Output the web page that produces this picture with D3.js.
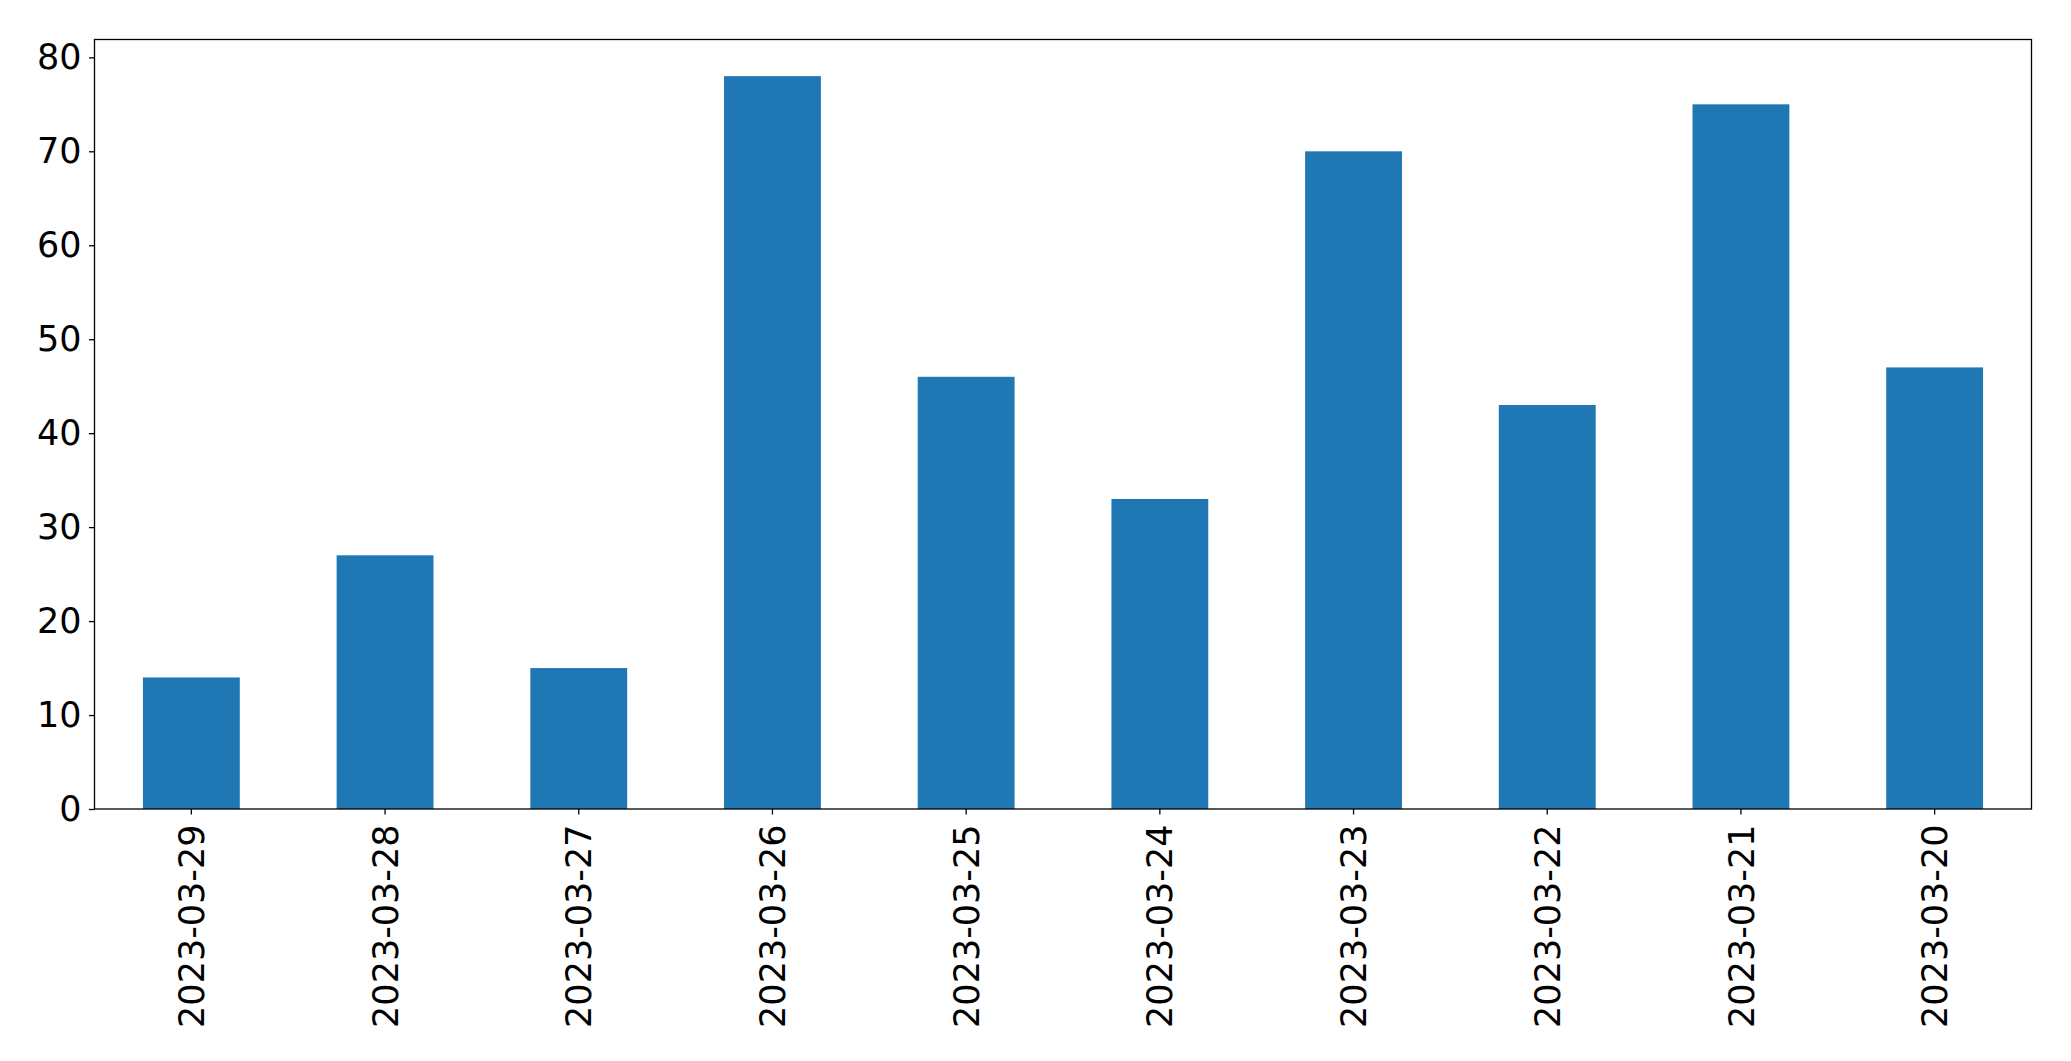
<!DOCTYPE html>
<html>
<head>
<meta charset="utf-8">
<script src="https://cdn.jsdelivr.net/npm/d3@7"></script>
<style>
  html, body { margin: 0; padding: 0; background: #fff; }
  svg { display: block; }
  text { font-family: "DejaVu Sans", sans-serif; }
</style>
</head>
<body>
<svg id="chart" width="2071" height="1061"></svg>
<script>
const categories = ["2023-03-29","2023-03-28","2023-03-27","2023-03-26","2023-03-25","2023-03-24","2023-03-23","2023-03-22","2023-03-21","2023-03-20"];
const values = [14, 27, 15, 78, 46, 33, 70, 43, 75, 47];
const yTicks = [0, 10, 20, 30, 40, 50, 60, 70, 80];

const W = 2071, H = 1061;
const margin = { left: 94.5, right: W - 2031.5, top: 39.5, bottom: H - 809 };
const svg = d3.select("#chart");
const iw = W - margin.left - margin.right;
const ih = H - margin.top - margin.bottom;
const g = svg.append("g").attr("transform", `translate(${margin.left},${margin.top})`);

const x = d3.scaleBand().domain(categories).range([0, iw]).paddingInner(0.5).paddingOuter(0.25);
const yMax = d3.max(values) * 1.05;
const y = d3.scaleLinear().domain([0, yMax]).range([ih, 0]);

g.selectAll("rect.bar").data(values).join("rect")
  .attr("class", "bar")
  .attr("x", (d, i) => x(categories[i]))
  .attr("width", x.bandwidth())
  .attr("y", d => y(d))
  .attr("height", d => y(0) - y(d))
  .attr("fill", "#1f77b4");

// Y axis
const yAxis = g.append("g").call(d3.axisLeft(y).tickValues(yTicks).tickSize(5.5).tickPadding(7.5).tickFormat(d3.format("d")));
yAxis.select(".domain").remove();
yAxis.selectAll(".tick line").attr("stroke", "#000").attr("stroke-width", 1.3);
yAxis.selectAll(".tick text").attr("font-size", 35).attr("fill", "#000").attr("font-family", "DejaVu Sans");

// X axis
const xAxis = g.append("g").attr("transform", `translate(0,${ih})`).call(d3.axisBottom(x).tickSize(5.5).tickPadding(0));
xAxis.select(".domain").remove();
xAxis.selectAll(".tick line").attr("stroke", "#000").attr("stroke-width", 1.3);
xAxis.selectAll(".tick text")
  .attr("font-size", 35).attr("fill", "#000").attr("font-family", "DejaVu Sans")
  .attr("text-anchor", "end")
  .attr("transform", "translate(0,15.5) rotate(-90)")
  .attr("x", 0).attr("y", 0).attr("dy", "0.36em");

// Frame
g.append("rect").attr("x", 0).attr("y", 0).attr("width", iw).attr("height", ih)
  .attr("fill", "none").attr("stroke", "#000").attr("stroke-width", 1.3);
</script>
</body>
</html>
